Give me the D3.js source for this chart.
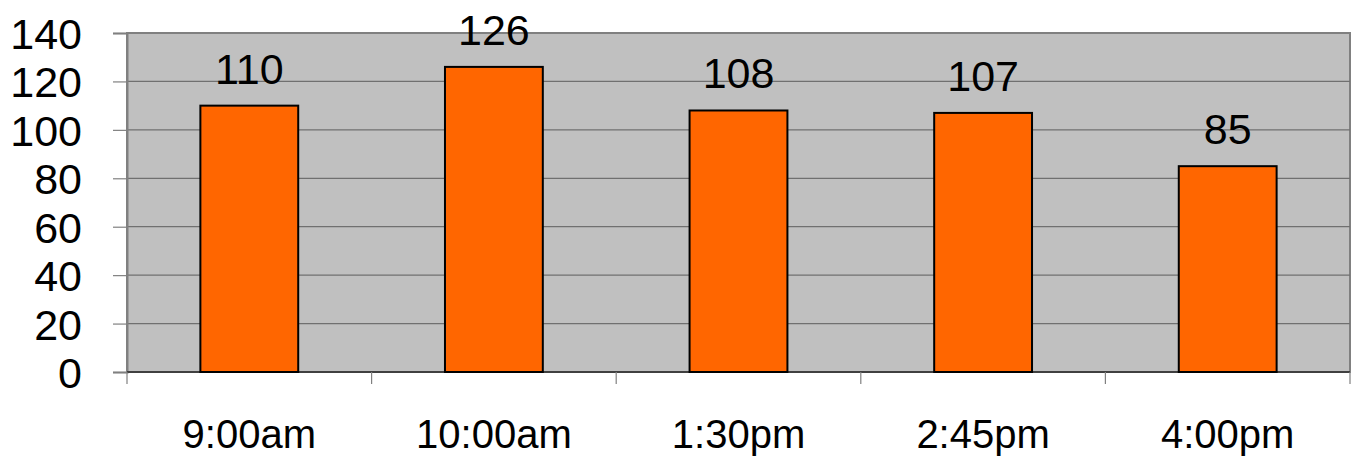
<!DOCTYPE html>
<html>
<head>
<meta charset="utf-8">
<script src="https://cdn.jsdelivr.net/npm/d3@7"></script>
<style>
  body { margin: 0; background: #fff; }
  text { font-family: "Liberation Sans", Arial, sans-serif; fill: #000; }
</style>
</head>
<body>
<svg id="chart"></svg>
<script>
const categories = ['9:00am', '10:00am', '1:30pm', '2:45pm', '4:00pm'];
const values = [110, 126, 108, 107, 85];
const yTicks = [0, 20, 40, 60, 80, 100, 120, 140];

const width = 1356;
const height = 460;
const margin = { top: 33, right: 6, bottom: 88, left: 127 };
const innerW = width - margin.left - margin.right;
const innerH = height - margin.top - margin.bottom;

const svg = d3.select('#chart')
    .attr('width', width)
    .attr('height', height);

const g = svg.append('g')
    .attr('transform', `translate(${margin.left},${margin.top})`);

const x = d3.scaleBand().domain(categories).range([0, innerW]).padding(0);
const y = d3.scaleLinear().domain([0, 140]).range([innerH, 0]);

// plot background
g.append('rect')
    .attr('width', innerW)
    .attr('height', innerH)
    .attr('fill', '#c0c0c0')
    .attr('stroke', '#808080')
    .attr('stroke-width', 2);

// gridlines
g.selectAll('.grid')
    .data(yTicks.filter(d => d > 0 && d < 140))
    .enter().append('line')
    .attr('x1', 0)
    .attr('x2', innerW)
    .attr('y1', d => y(d))
    .attr('y2', d => y(d))
    .attr('stroke', '#707070')
    .attr('stroke-width', 1.2);

// y axis
const yAxis = g.append('g')
    .call(d3.axisLeft(y).tickValues(yTicks).tickSize(14).tickPadding(31));
yAxis.select('.domain').attr('stroke', '#808080').attr('stroke-width', 2);
yAxis.selectAll('.tick line').attr('stroke', '#808080').attr('stroke-width', 1.2);
yAxis.selectAll('text')
    .style('font-size', '43px')
    .attr('dy', '0.36em');

// x axis: ticks at category boundaries
const xAxis = g.append('g')
    .attr('transform', `translate(0,${innerH})`);
xAxis.append('line')
    .attr('x1', 0).attr('x2', innerW)
    .attr('stroke', '#404040').attr('stroke-width', 2);
const bounds = categories.map(c => x(c)).concat([x(categories[categories.length - 1]) + x.bandwidth()]);
xAxis.selectAll('.xtick')
    .data(bounds)
    .enter().append('line')
    .attr('x1', d => d).attr('x2', d => d)
    .attr('y1', 0).attr('y2', 12)
    .attr('stroke', '#808080').attr('stroke-width', 1.2);
xAxis.selectAll('.xlabel')
    .data(categories)
    .enter().append('text')
    .attr('x', d => x(d) + x.bandwidth() / 2)
    .attr('y', 76)
    .attr('text-anchor', 'middle')
    .style('font-size', '40px')
    .text(d => d);

// bars
const barW = x.bandwidth() * 0.4;
const data = categories.map((c, i) => ({ cat: c, val: values[i] }));

g.selectAll('.bar')
    .data(data)
    .enter().append('rect')
    .attr('class', 'bar')
    .attr('x', d => x(d.cat) + (x.bandwidth() - barW) / 2)
    .attr('y', d => y(d.val))
    .attr('width', barW)
    .attr('height', d => innerH - y(d.val))
    .attr('fill', '#ff6600')
    .attr('stroke', '#000')
    .attr('stroke-width', 2);

// value labels
g.selectAll('.val')
    .data(data)
    .enter().append('text')
    .attr('x', d => x(d.cat) + x.bandwidth() / 2)
    .attr('y', d => y(d.val) - 22)
    .attr('text-anchor', 'middle')
    .style('font-size', '43px')
    .text(d => d.val);
</script>
</body>
</html>
